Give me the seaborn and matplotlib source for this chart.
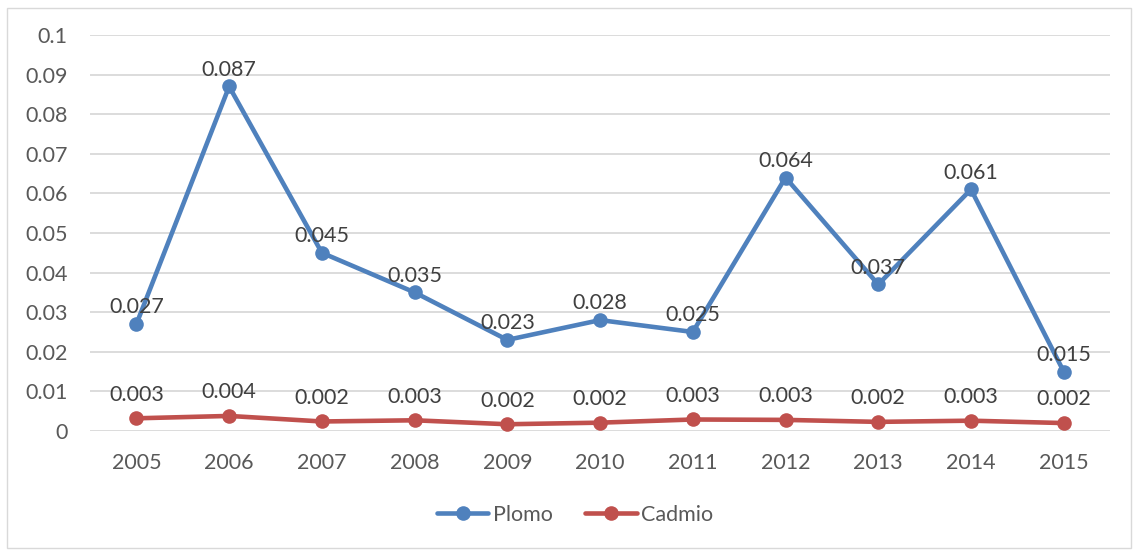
import numpy as np
import pandas as pd
import seaborn as sns
import matplotlib.pyplot as plt
from matplotlib.patches import Rectangle
from matplotlib.ticker import FuncFormatter

# data
years = [2005, 2006, 2007, 2008, 2009, 2010, 2011, 2012, 2013, 2014, 2015]
plomo = [0.027, 0.087, 0.045, 0.035, 0.023, 0.028, 0.025, 0.064, 0.037, 0.061, 0.015]
cadmio = [0.0032, 0.0038, 0.0024, 0.0027, 0.0017, 0.0021, 0.0029, 0.0028, 0.0023, 0.0026, 0.0020]
series = ["Plomo", "Cadmio"]
yticks = [0, 0.01, 0.02, 0.03, 0.04, 0.05, 0.06, 0.07, 0.08, 0.09, 0.1]

df = pd.DataFrame({
    "year": years * 2,
    "valor": plomo + cadmio,
    "serie": [series[0]] * len(years) + [series[1]] * len(years),
})

sns.set_style("white")
plt.rcParams["font.family"] = ["Lato", "DejaVu Sans"]

txt = "#595959"
fs = 15.5
colors = {"Plomo": "#4F81BD", "Cadmio": "#C0504D"}

fig = plt.figure(figsize=(11.34, 5.5), dpi=100)
ax = fig.add_axes([0.0794, 0.2164, 0.8995, 0.7200])

sns.lineplot(data=df, x="year", y="valor", hue="serie", palette=colors,
             marker="o", markersize=10.5, markeredgewidth=0, linewidth=3.3,
             ax=ax, zorder=3)

# data labels
for name, vals, off in [("Plomo", plomo, 12), ("Cadmio", cadmio, 17)]:
    for x, v in zip(years, vals):
        ax.annotate(f"{v:.3f}", (x, v), xytext=(0, off), textcoords="offset points",
                    ha="center", va="center", fontsize=fs, color="#404040", zorder=4)

ax.set_xlim(2004.5, 2015.5)
ax.set_ylim(0, 0.1)
ax.set_yticks(yticks)
ax.yaxis.set_major_formatter(FuncFormatter(lambda v, p: f"{v:g}"))
ax.set_xticks(years)
ax.set_xticklabels([str(y) for y in years])
ax.grid(axis="y", color="#D9D9D9", linewidth=1.3)
ax.set_axisbelow(True)
for s in ax.spines.values():
    s.set_visible(False)
ax.tick_params(axis="both", length=0, labelsize=fs, colors=txt)
ax.tick_params(axis="x", pad=16)
ax.tick_params(axis="y", pad=16)
ax.set_xlabel("")
ax.set_ylabel("")

handles, labels = ax.get_legend_handles_labels()
ax.legend(handles, labels, loc="center", ncol=2,
          frameon=False, fontsize=fs, labelcolor=txt, handlelength=2.4,
          handletextpad=0.2, columnspacing=1.5,
          bbox_to_anchor=(0.507, 1 - 515 / 550), bbox_transform=fig.transFigure)

fig.patches.append(Rectangle((7 / 1134, 2 / 550), 1124 / 1134, 540 / 550,
                             transform=fig.transFigure, fill=False,
                             edgecolor="#D9D9D9", linewidth=1))

fig.savefig("out.png", dpi=100)
